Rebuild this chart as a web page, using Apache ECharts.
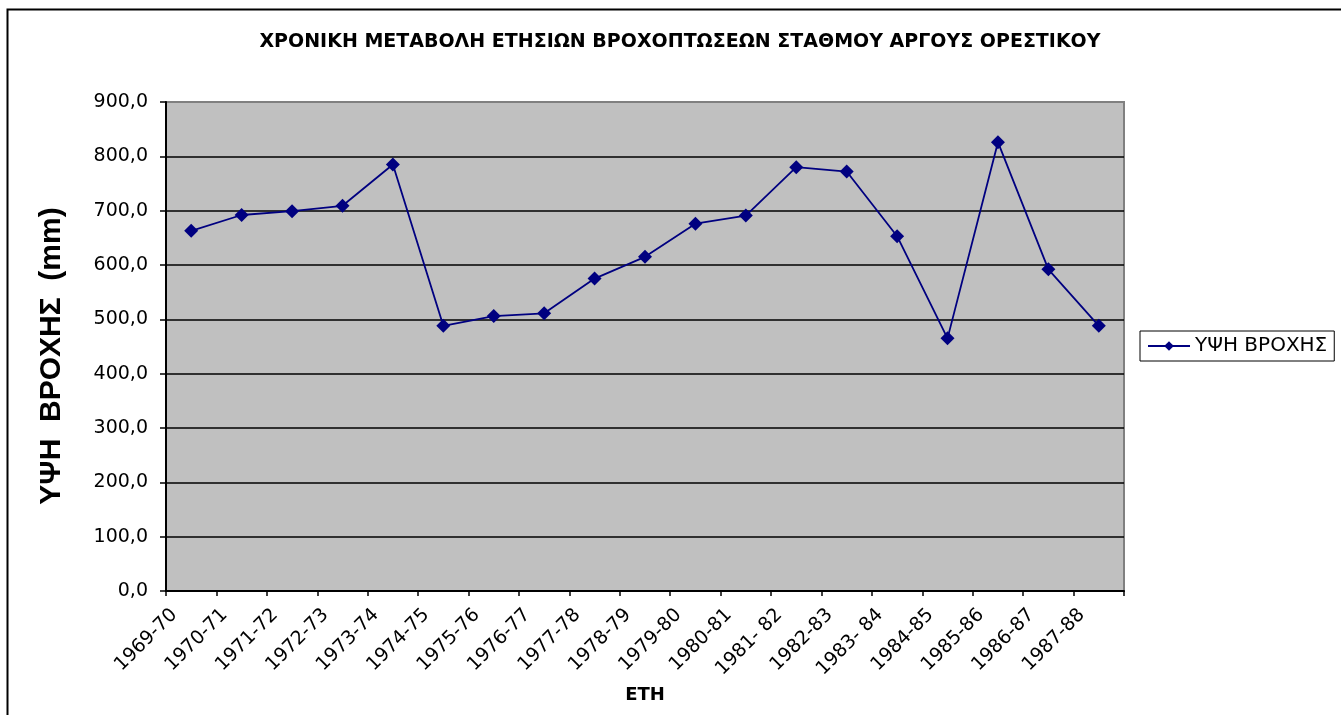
<!DOCTYPE html>
<html>
<head>
<meta charset="utf-8">
<script src="https://cdn.jsdelivr.net/npm/echarts@6/dist/echarts.min.js"></script>
<style>
  html, body { margin: 0; padding: 0; background: #fff; }
  #chart { width: 1341px; height: 715px; }
</style>
</head>
<body>
<div id="chart"></div>
<script>
// υδρολογικά έτη
let categories = ['1969-70', '1970-71', '1971-72', '1972-73', '1973-74', '1974-75', '1975-76',
  '1976-77', '1977-78', '1978-79', '1979-80', '1980-81', '1981- 82', '1982-83', '1983- 84',
  '1984-85', '1985-86', '1986-87', '1987-88'];
// ετήσιο ύψος βροχής (mm)
let rain = [663, 692, 699, 709, 785, 488, 506, 511, 575, 615, 676, 691, 780, 772, 653, 465, 826, 592, 488];
let yMin = 0;
let yMax = 900;
let yStep = 100;

let titleText = 'ΧΡΟΝΙΚΗ ΜΕΤΑΒΟΛΗ ΕΤΗΣΙΩΝ ΒΡΟΧΟΠΤΩΣΕΩΝ ΣΤΑΘΜΟΥ ΑΡΓΟΥΣ ΟΡΕΣΤΙΚΟΥ';
let yName = 'ΥΨΗ  ΒΡΟΧΗΣ  (mm)';
let xName = 'ΕΤΗ';
let seriesName = 'ΥΨΗ ΒΡΟΧΗΣ';

let font = '"DejaVu Sans", sans-serif';

let myChart = echarts.init(document.getElementById('chart'));
let option = {
  animation: false,
  backgroundColor: '#fff',
  title: {
    text: titleText,
    left: 675,
    top: 28,
    textAlign: 'center',
    textStyle: {fontFamily: font, fontWeight: 'bold', fontSize: 19, color: '#000'}
  },
  graphic: [
    {
      type: 'rect',
      silent: true,
      shape: {x: 7.5, y: 9.5, width: 1360, height: 730},
      style: {fill: 'none', stroke: '#000', lineWidth: 2}
    },
    {
      type: 'text',
      silent: true,
      x: 52,
      y: 356,
      rotation: Math.PI / 2,
      style: {
        text: yName,
        fill: '#000',
        font: 'bold 30px "Liberation Sans", Arial, sans-serif',
        textAlign: 'center',
        textVerticalAlign: 'middle'
      }
    }
  ],
  legend: {
    data: [seriesName],
    left: 1140,
    top: 331,
    orient: 'vertical',
    borderColor: '#000',
    borderWidth: 1,
    borderRadius: 0,
    padding: [5, 7, 5, 7],
    itemWidth: 42,
    itemHeight: 12,
    textStyle: {fontFamily: font, fontSize: 20, color: '#000'}
  },
  grid: {
    left: 166,
    right: 217,
    top: 102,
    bottom: 124,
    show: true,
    backgroundColor: '#c0c0c0',
    borderColor: '#808080',
    borderWidth: 2
  },
  xAxis: {
    type: 'category',
    data: categories,
    boundaryGap: true,
    name: xName,
    nameLocation: 'middle',
    nameGap: 88,
    nameTextStyle: {fontFamily: font, fontWeight: 'bold', fontSize: 18, color: '#000'},
    axisLine: {lineStyle: {color: '#000', width: 2}},
    axisTick: {show: true, length: 5, lineStyle: {color: '#000', width: 1.5}},
    axisLabel: {
      interval: 0,
      rotate: 45,
      margin: 4,
      padding: [0, 24, 0, 0],
      fontFamily: font,
      fontSize: 19,
      color: '#000'
    },
    splitLine: {show: false}
  },
  yAxis: {
    type: 'value',
    min: yMin,
    max: yMax,
    interval: yStep,
    axisLine: {show: true, lineStyle: {color: '#000', width: 2}},
    axisTick: {show: true, length: 6, lineStyle: {color: '#000', width: 1.5}},
    axisLabel: {
      margin: 18,
      fontFamily: font,
      fontSize: 19,
      color: '#000',
      formatter: v => v.toFixed(1).replace('.', ',')
    },
    splitLine: {show: true, showMaxLine: false, lineStyle: {color: '#000', width: 1.5}}
  },
  series: [
    {
      name: seriesName,
      type: 'line',
      data: rain,
      symbol: 'diamond',
      symbolSize: 14,
      itemStyle: {color: '#000080'},
      lineStyle: {color: '#000080', width: 1.8}
    }
  ]
};
myChart.setOption(option);
</script>
</body>
</html>
